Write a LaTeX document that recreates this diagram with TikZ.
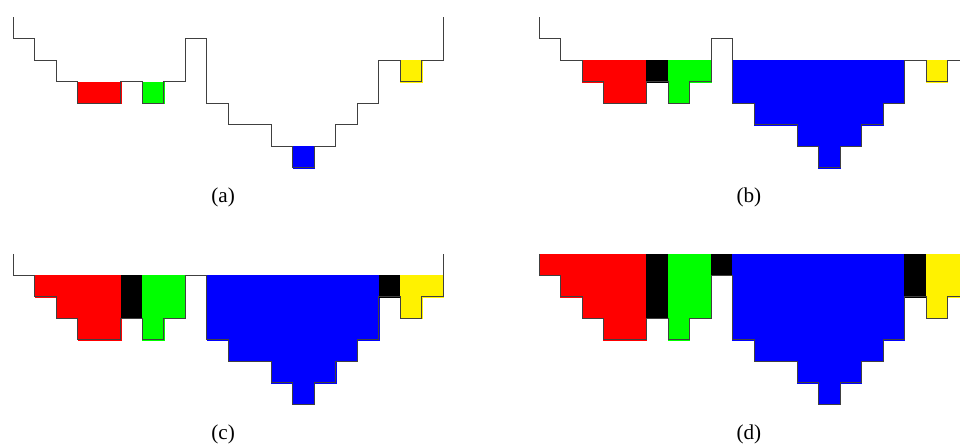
\documentclass[tikz,border=0pt]{standalone}
\usepackage{fontspec}
\setmainfont{Liberation Serif}

\tikzset{
  ground/.style={draw=black!75, line width=0.6pt},
  pool/.style={fill=#1, draw=#1, line width=0.2pt},
  caption/.style={font=\fontsize{14}{16}\selectfont, inner sep=0pt}
}

% depth of the ground below the rim, one value per column
\def\depth{{1,2,3,4,4,3,4,3,1,4,5,5,6,7,6,5,4,2,3,2}}

% #1,#2: top left corner, #3: water cells col/level/colour, #4: label
\newcommand{\basin}[4]{%
  \begin{scope}[shift={(#1,#2)}]
    \foreach \c/\t/\col in {#3} {
      \pgfmathtruncatemacro\b{\depth[\c]}
      \draw[pool=\col] (\c,-\t) rectangle (\c+1,-\b);
    }
    \draw[ground] (0,0) foreach \h [count=\i from 0] in {1,2,3,4,4,3,4,3,1,4,5,5,6,7,6,5,4,2,3,2} { -- (\i,-\h) -- (\i+1,-\h) } -- (20,0);
    \node[caption] (cap-#4) at (9.76,-8.39) {(#4)};
  \end{scope}}

\begin{document}
\begin{tikzpicture}[x=0.5cm,y=0.5cm]
  \useasboundingbox (0,0) rectangle (44.65,-20.79);
  % (a) rain only
  \basin{0.62}{-0.80}{3/3/red,4/3/red,6/3/green,13/6/blue,18/2/yellow}{a}
  % (b)
  \basin{25.07}{-0.80}{2/2/red,3/2/red,4/2/red,5/2/black,6/2/green,7/2/green,
    9/2/blue,10/2/blue,11/2/blue,12/2/blue,13/2/blue,14/2/blue,15/2/blue,16/2/blue,
    18/2/yellow}{b}
  % (c)
  \basin{0.62}{-11.81}{1/1/red,2/1/red,3/1/red,4/1/red,5/1/black,6/1/green,7/1/green,
    9/1/blue,10/1/blue,11/1/blue,12/1/blue,13/1/blue,14/1/blue,15/1/blue,16/1/blue,
    17/1/black,18/1/yellow,19/1/yellow}{c}
  % (d) full
  \basin{25.07}{-11.81}{0/0/red,1/0/red,2/0/red,3/0/red,4/0/red,5/0/black,6/0/green,7/0/green,
    8/0/black,9/0/blue,10/0/blue,11/0/blue,12/0/blue,13/0/blue,14/0/blue,15/0/blue,16/0/blue,
    17/0/black,18/0/yellow,19/0/yellow}{d}
\end{tikzpicture}
\end{document}
